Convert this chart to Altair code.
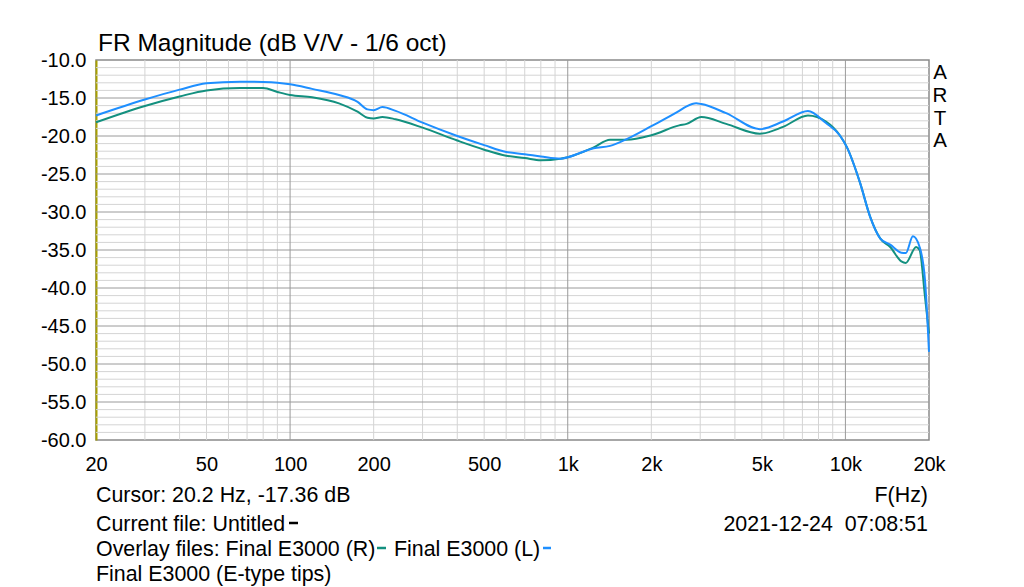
import altair as alt
import pandas as pd

# ---- data ----
freq_L = [20, 30, 40, 50, 66, 80, 90, 100, 120, 150, 175, 190, 200, 215, 240, 300, 400, 500, 600, 700, 800, 940, 1000,
          1240, 1420, 1630, 2000, 2520, 2680, 2900, 3030, 3720, 4920, 5960, 7330, 8510, 9540, 10100, 11300, 12270,
          13360, 14500, 15900, 16500, 17500, 18500, 19340, 20000]
db_L = [-17.3, -15.2, -13.9, -13.07, -12.85, -12.9, -13.0, -13.2, -13.8, -14.6, -15.5, -16.5, -16.6, -16.2, -16.7, -18.25,
        -20.0, -21.2, -22.1, -22.4, -22.7, -23.0, -22.8, -21.6, -21.3, -20.4, -18.7, -16.7, -16.1, -15.7, -15.8, -17.0,
        -19.1, -18.1, -16.7, -18.3, -19.9, -21.4, -26.2, -30.6, -33.5, -34.3, -35.35, -35.4, -33.2, -34.6, -38.9, -48.4]

freq_R = [20, 30, 40, 50, 66, 80, 90, 100, 120, 150, 175, 190, 200, 215, 240, 300, 400, 500, 600, 700, 800, 940, 1000,
          1240, 1420, 1630, 2000, 2520, 2680, 3030, 3720, 4920, 5960, 7330, 8510, 9540, 10100, 11300, 12270, 13360,
          14500, 15900, 16500, 17980, 18500, 19340, 20000]
db_R = [-18.2, -16.05, -14.8, -14.0, -13.7, -13.7, -14.2, -14.6, -14.9, -15.7, -16.8, -17.6, -17.7, -17.5, -17.8, -18.9,
        -20.6, -21.8, -22.6, -22.9, -23.2, -23.0, -22.8, -21.5, -20.5, -20.5, -19.9, -18.6, -18.4, -17.5, -18.4, -19.7,
        -18.8, -17.3, -18.1, -19.9, -21.4, -26.2, -30.6, -33.5, -34.6, -36.5, -36.7, -34.6, -35.0, -41.1, -46.0]

x_tick_values = [20, 50, 100, 200, 500, 1000, 2000, 5000, 10000, 20000]
y_tick_values = [-60, -55, -50, -45, -40, -35, -30, -25, -20, -15, -10]
x_grid_minor = [30, 40, 50, 60, 70, 80, 90, 200, 300, 400, 500, 600, 700, 800, 900,
                2000, 3000, 4000, 5000, 6000, 7000, 8000, 9000]
x_grid_major = [100, 1000, 10000]
y_grid_minor = [v for v in range(-59, -10) if v % 5 != 0]
y_grid_major = [-55, -50, -45, -40, -35, -30, -25, -20, -15]

W, H = 833, 380
FONT = "Liberation Sans"
BLUE = "#1e8fff"
TEAL = "#13907f"

xscale = alt.Scale(type="log", domain=[20, 20000], nice=False)
yscale = alt.Scale(domain=[-60, -10], nice=False, zero=False)

x_axis = alt.Axis(
    values=x_tick_values, grid=False, ticks=False, domain=False, title=None,
    labelExpr="datum.value >= 1000 ? (datum.value/1000) + 'k' : datum.value + ''",
    labelFont=FONT, labelFontSize=20, labelColor="black", labelPadding=14,
    labelFlush=False, labelOverlap=False)
y_axis = alt.Axis(
    values=y_tick_values, grid=False, ticks=False, domain=True, domainColor="#a8a000",
    domainWidth=2, title=None,
    labelExpr="'-' + abs(datum.value) + '.0'",
    labelFont=FONT, labelFontSize=20, labelColor="black", labelPadding=10)

curves = pd.concat([
    pd.DataFrame({"f": freq_R, "db": db_R, "s": "R"}),
    pd.DataFrame({"f": freq_L, "db": db_L, "s": "L"}),
])

xgm = alt.Chart(pd.DataFrame({"f": x_grid_minor})).mark_rule(color="#d4d4d4", strokeWidth=1).encode(
    x=alt.X("f:Q", scale=xscale, axis=x_axis))
xgM = alt.Chart(pd.DataFrame({"f": x_grid_major})).mark_rule(color="#9a9a9a", strokeWidth=1).encode(
    x=alt.X("f:Q", scale=xscale, axis=x_axis))
ygm = alt.Chart(pd.DataFrame({"v": y_grid_minor})).mark_rule(color="#d4d4d4", strokeWidth=1).encode(
    y=alt.Y("v:Q", scale=yscale, axis=y_axis))
ygM = alt.Chart(pd.DataFrame({"v": y_grid_major})).mark_rule(color="#9a9a9a", strokeWidth=1).encode(
    y=alt.Y("v:Q", scale=yscale, axis=y_axis))

lines = alt.Chart(curves).mark_line(strokeWidth=2, interpolate="monotone").encode(
    x=alt.X("f:Q", scale=xscale, axis=x_axis),
    y=alt.Y("db:Q", scale=yscale, axis=y_axis),
    color=alt.Color("s:N", scale=alt.Scale(domain=["R", "L"], range=[TEAL, BLUE]), legend=None),
    order=alt.Order("s:N", sort="descending"),
)

one = pd.DataFrame({"a": [0]})


def label(txt, x, y, align="left", size=21.4, color="black"):
    return alt.Chart(one).mark_text(align=align, baseline="alphabetic", font=FONT, fontSize=size,
                                    color=color).encode(
        x=alt.value(x), y=alt.value(y), text=alt.value(txt))


def dash(x1, x2, y, color):
    return alt.Chart(one).mark_rule(color=color, strokeWidth=2.5).encode(
        x=alt.value(x1), x2=alt.value(x2), y=alt.value(y))


texts = [
    label("FR Magnitude (dB V/V - 1/6 oct)", 2, -9, size=24.5),
    label("A", 844, 19, align="center", size=20.5),
    label("R", 844, 42, align="center", size=20.5),
    label("T", 844, 65, align="center", size=20.5),
    label("A", 844, 87, align="center", size=20.5),
    label("Cursor: 20.2 Hz, -17.36 dB", 0, 442),
    label("F(Hz)", 832, 442, align="right"),
    label("Current file: Untitled", 0, 471),
    label("2021-12-24\u00a0\u00a007:08:51", 832, 471, align="right"),
    label("Overlay files: Final E3000 (R)", 0, 496),
    label("Final E3000 (L)", 298, 496),
    label("Final E3000 (E-type tips)", 0, 521),
    dash(193, 202, 463, "black"),
    dash(281, 290, 488, TEAL),
    dash(447, 455, 488, BLUE),
]

chart = alt.layer(xgm, ygm, xgM, ygM, lines, *texts).properties(
    width=W, height=H,
    autosize=alt.AutoSizeParams(type="none"),
    padding={"left": 96, "top": 60, "right": 1024 - 96 - W, "bottom": 587 - 60 - H},
    background="white",
).configure_view(stroke="#8a8a8a", strokeWidth=1.5)

chart.save("out.html", embed_options={"renderer": "svg", "actions": False})
